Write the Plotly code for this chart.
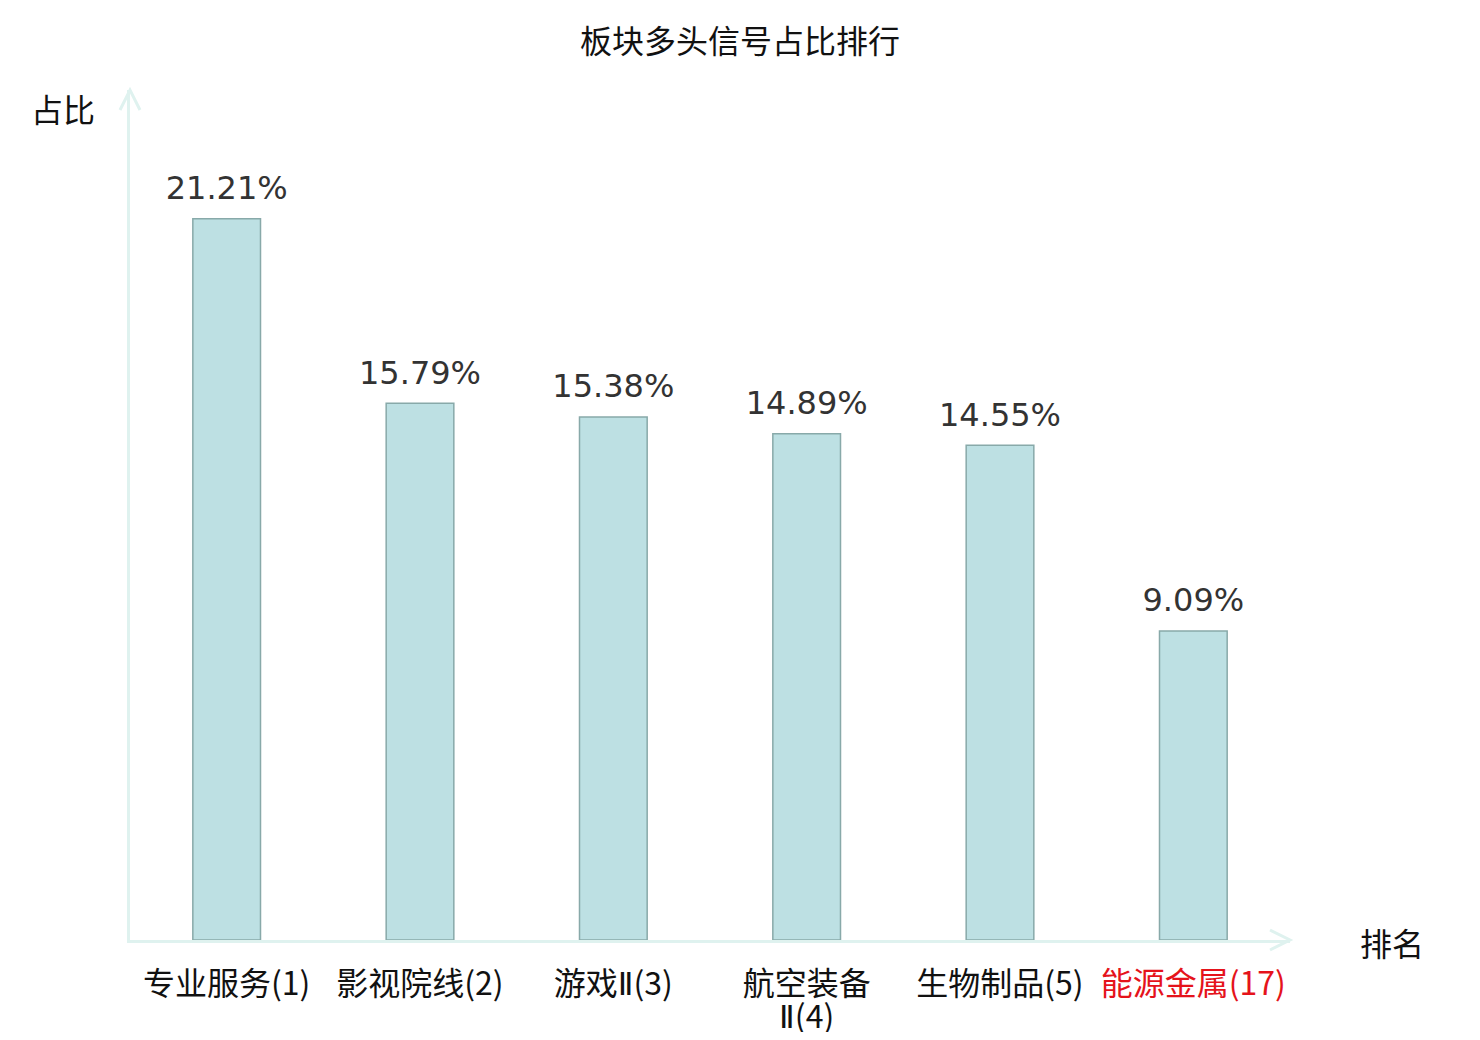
import plotly.graph_objects as go

# data
sectors = ['专业服务(1)', '影视院线(2)', '游戏Ⅱ(3)', '航空装备<br>Ⅱ(4)', '生物制品(5)', '能源金属(17)']
ratios = [21.21, 15.79, 15.38, 14.89, 14.55, 9.09]
highlight = '能源金属(17)'

cjk = 'Noto Sans CJK SC'
axis_color = '#dff2ef'


def tick_label(s):
    # base tick font is smaller so that wrapped lines sit closer together
    s = s.replace('Ⅱ', "<span style='font-family:DejaVu Sans'>Ⅱ</span>")
    color = '#e5131b' if highlight in s else '#111111'
    return '<br>'.join(f"<span style='font-size:32px;color:{color}'>{part}</span>"
                       for part in s.split('<br>'))


fig = go.Figure()
fig.add_trace(go.Bar(
    x=sectors, y=ratios, width=0.35,
    marker=dict(color='#bde0e3', line=dict(color='#88a9a9', width=1.5)),
    hoverinfo='skip',
))
# value labels above the bars
fig.add_trace(go.Scatter(
    x=sectors, y=ratios, mode='markers+text',
    marker=dict(size=17, color='rgba(0,0,0,0)'),
    text=[f'{v:.2f}%' for v in ratios], textposition='top center',
    textfont=dict(family='DejaVu Sans', size=32, color='#333333'),
    cliponaxis=False, hoverinfo='skip',
))

fig.update_xaxes(
    type='category', range=[-0.5, 5.5], tickvals=sectors,
    ticktext=[tick_label(s) for s in sectors], automargin=False,
    showline=True, linecolor=axis_color, linewidth=3, showgrid=False, zeroline=False,
    ticks='', tickfont=dict(family=cjk, size=25, color='#111111'), ticklabelstandoff=22,
)
fig.update_yaxes(
    range=[0, 25], showline=True, linecolor=axis_color, linewidth=3, automargin=False,
    showgrid=False, zeroline=False, showticklabels=False, ticks='',
)

# arrow heads on the axes (paper coords, plot area 1160x850 px)
px_x, px_y = 1 / 1160, 1 / 850
fig.add_shape(type='path', xref='paper', yref='paper',
              path=f'M {-10*px_x} {1-20*px_y} L 0 1 L {10*px_x} {1-20*px_y}',
              line=dict(color=axis_color, width=3))
fig.add_shape(type='path', xref='paper', yref='paper',
              path=f'M {1-20*px_x} {10*px_y} L 1 0 L {1-20*px_x} {-10*px_y}',
              line=dict(color=axis_color, width=3))

fig.add_annotation(xref='paper', yref='paper', x=-67 * px_x, y=832 * px_y, text='占比',
                   xanchor='center', yanchor='middle', showarrow=False,
                   font=dict(family=cjk, size=32, color='#111111'))
fig.add_annotation(xref='paper', yref='paper', x=1262 * px_x, y=-2 * px_y, text='排名',
                   xanchor='center', yanchor='middle', showarrow=False,
                   font=dict(family=cjk, size=32, color='#111111'))

# page body adds an 8px margin, so the figure is 16px smaller than the window
fig.update_layout(
    width=1464, height=1024,
    margin=dict(l=122, r=182, t=82, b=92),
    paper_bgcolor='white', plot_bgcolor='white',
    title=dict(text='板块多头信号占比排行', x=0.5, xref='container', y=1 - 34 / 1024,
               yref='container', yanchor='middle', xanchor='center',
               font=dict(family=cjk, size=32, color='#111111')),
    showlegend=False,
)

fig.write_html('out.html')
